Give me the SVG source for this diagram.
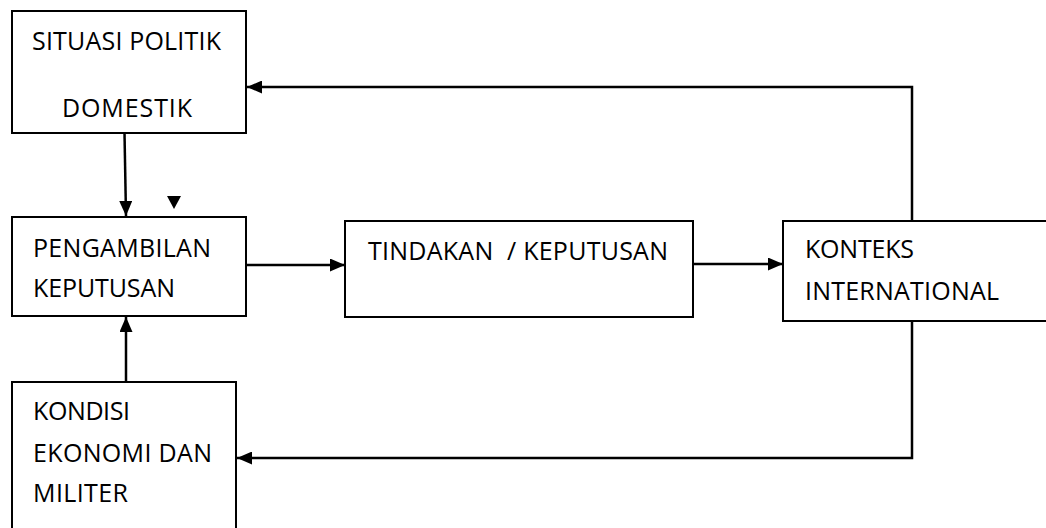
<svg xmlns="http://www.w3.org/2000/svg" width="1046" height="528" viewBox="0 0 1046 528">
<style>
.box{fill:#fff;stroke:#000;stroke-width:2}
.t{font-family:"Open Sans","Liberation Sans",sans-serif;font-size:25px;fill:#000}
.c{fill:none;stroke:#000;stroke-width:2.5}
</style>
<defs>
<marker id="ah" viewBox="0 0 15 13" refX="15" refY="6.5" markerWidth="15" markerHeight="13" markerUnits="userSpaceOnUse" orient="auto">
<path d="M0,0 L15,6.5 L0,13 Z" fill="#000"/>
</marker>
</defs>
<rect width="1046" height="528" fill="#fff"/>
<g id="connectors">
<path class="c" d="M124.5,133 L126,216" marker-end="url(#ah)"/>
<path class="c" d="M126,382 L126,317" marker-end="url(#ah)"/>
<path class="c" d="M246,265 L345,265" marker-end="url(#ah)"/>
<path class="c" d="M693,264 L783,264" marker-end="url(#ah)"/>
<path class="c" d="M912,221 L912,87 L247,87" marker-end="url(#ah)"/>
<path class="c" d="M912,321 L912,458 L237,458" marker-end="url(#ah)"/>
<path d="M167,196 L181,196 L174,209 Z" fill="#000"/>
</g>
<g id="situasi">
<rect class="box" x="12" y="11" width="234" height="122"/>
<text class="t" x="32" y="50" textLength="189">SITUASI POLITIK</text>
<text class="t" x="62" y="117" textLength="130">DOMESTIK</text>
</g>
<g id="pengambilan">
<rect class="box" x="12" y="217" width="234" height="99"/>
<text class="t" x="33" y="257" textLength="178">PENGAMBILAN</text>
<text class="t" x="33" y="297" textLength="142">KEPUTUSAN</text>
</g>
<g id="tindakan">
<rect class="box" x="345" y="221" width="348" height="96"/>
<text class="t" x="368" y="260" textLength="300" xml:space="preserve">TINDAKAN  / KEPUTUSAN</text>
</g>
<g id="konteks">
<rect class="box" x="783" y="221" width="275" height="100"/>
<text class="t" x="805" y="258" textLength="109">KONTEKS</text>
<text class="t" x="805" y="300" textLength="194">INTERNATIONAL</text>
</g>
<g id="kondisi">
<rect class="box" x="12" y="382" width="224" height="160"/>
<text class="t" x="33" y="420" textLength="97">KONDISI</text>
<text class="t" x="33" y="462" textLength="179">EKONOMI DAN</text>
<text class="t" x="33" y="502" textLength="95">MILITER</text>
</g>
</svg>
